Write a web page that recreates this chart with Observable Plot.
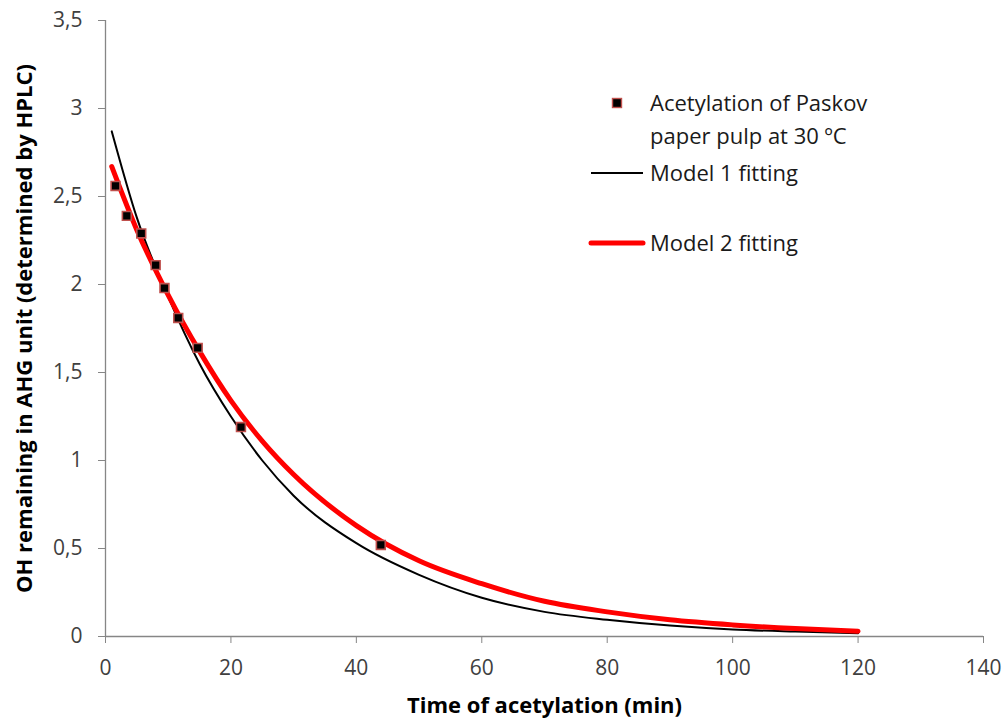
<!DOCTYPE html>
<html>
<head>
<meta charset="utf-8">
<script src="https://cdn.jsdelivr.net/npm/d3@7"></script>
<script src="https://cdn.jsdelivr.net/npm/@observablehq/plot@0.6"></script>
<style>
  body { margin: 0; background: #fff; }
  #wrap { position: relative; width: 1008px; height: 723px; font-family: "Open Sans", sans-serif; }
  .leg { position: absolute; font-size: 22px; color: #1a1a1a; line-height: 33px; white-space: nowrap; }
</style>
</head>
<body>
<div id="wrap"></div>
<script>
// Experimental points
const expTime = [1.6, 3.4, 5.7, 8.0, 9.4, 11.6, 14.7, 21.6, 43.9];
const expOH   = [2.56, 2.39, 2.29, 2.11, 1.98, 1.81, 1.64, 1.19, 0.52];

// Model curves
const fitTime = [1, 5, 10, 15, 20, 25, 30, 40, 50, 60, 70, 80, 90, 100, 110, 120];
const model1  = [2.87, 2.38, 1.93, 1.55, 1.25, 1.00, 0.80, 0.53, 0.35, 0.22, 0.14, 0.095, 0.062, 0.040, 0.028, 0.019];
const model2  = [2.67, 2.31, 1.94, 1.62, 1.34, 1.11, 0.92, 0.63, 0.43, 0.30, 0.20, 0.14, 0.095, 0.066, 0.045, 0.030];

const xTicks = [0, 20, 40, 60, 80, 100, 120, 140];
const yTicks = [0, 0.5, 1, 1.5, 2, 2.5, 3, 3.5];

const xTitle = "Time of acetylation (min)";
const yTitle = "OH remaining in AHG unit (determined by HPLC)";
const legendLabels = ["Acetylation of Paskov", "paper pulp at 30 ºC", "Model 1 fitting", "Model 2 fitting"];

const pts = expTime.map((t, i) => ({t, v: expOH[i]}));
const m1 = fitTime.map((t, i) => ({t, v: model1[i]}));
const m2 = fitTime.map((t, i) => ({t, v: model2[i]}));
const fmt = d => String(d).replace(".", ",");
const axisGray = "#868686";

const chart = Plot.plot({
  width: 1008,
  height: 723,
  marginLeft: 105,
  marginRight: 25,
  marginTop: 20,
  marginBottom: 87,
  style: {fontFamily: "'Open Sans', sans-serif", fontSize: "21px", color: "#404040", background: "#fff", overflow: "visible"},
  x: {domain: [0, 140]},
  y: {domain: [0, 3.5]},
  marks: [
    Plot.ruleY([0], {stroke: axisGray, strokeWidth: 1.3}),
    Plot.ruleX([0], {stroke: axisGray, strokeWidth: 1.3}),
    Plot.axisX(xTicks, {tickSize: 7, tickPadding: 17, stroke: axisGray, fill: "#404040", label: null, fontSize: 21}),
    Plot.axisY(yTicks, {tickSize: 7, tickPadding: 16, stroke: axisGray, fill: "#404040", tickFormat: fmt, label: null, fontSize: 21}),
    Plot.line(m1, {x: "t", y: "v", stroke: "black", strokeWidth: 2, curve: "monotone-x"}),
    Plot.line(m2, {x: "t", y: "v", stroke: "#ff0000", strokeWidth: 5, curve: "monotone-x"}),
    Plot.dot(pts, {x: "t", y: "v", symbol: "square", r: 5, fill: "black", stroke: "#c0504d", strokeWidth: 1.6}),
    Plot.text([xTitle], {frameAnchor: "bottom", dy: 76, fontWeight: "bold", fontSize: 22, fill: "black"}),
    Plot.text([yTitle], {frameAnchor: "left", textAnchor: "middle", rotate: -90, dx: -81, fontWeight: "bold", fontSize: 22, fill: "black"})
  ]
});
const wrap = document.getElementById("wrap");
wrap.appendChild(chart);

// Legend overlay
function addText(txt, left, top) {
  const d = document.createElement("div");
  d.className = "leg";
  d.textContent = txt;
  d.style.left = left + "px";
  d.style.top = (top - 17) + "px";
  wrap.appendChild(d);
}
const sw = document.createElementNS("http://www.w3.org/2000/svg", "svg");
sw.setAttribute("width", 1008); sw.setAttribute("height", 723);
sw.style.position = "absolute"; sw.style.left = "0"; sw.style.top = "0";
sw.innerHTML = `
  <rect x="612.5" y="98.5" width="9" height="9" fill="black" stroke="#c0504d" stroke-width="1.4"/>
  <line x1="591" x2="643" y1="173" y2="173" stroke="black" stroke-width="2"/>
  <line x1="591" x2="643" y1="243" y2="243" stroke="#ff0000" stroke-width="5" stroke-linecap="round"/>`;
wrap.appendChild(sw);
addText(legendLabels[0], 650, 103);
addText(legendLabels[1], 650, 136);
addText(legendLabels[2], 650, 173);
addText(legendLabels[3], 650, 243);
</script>
</body>
</html>
